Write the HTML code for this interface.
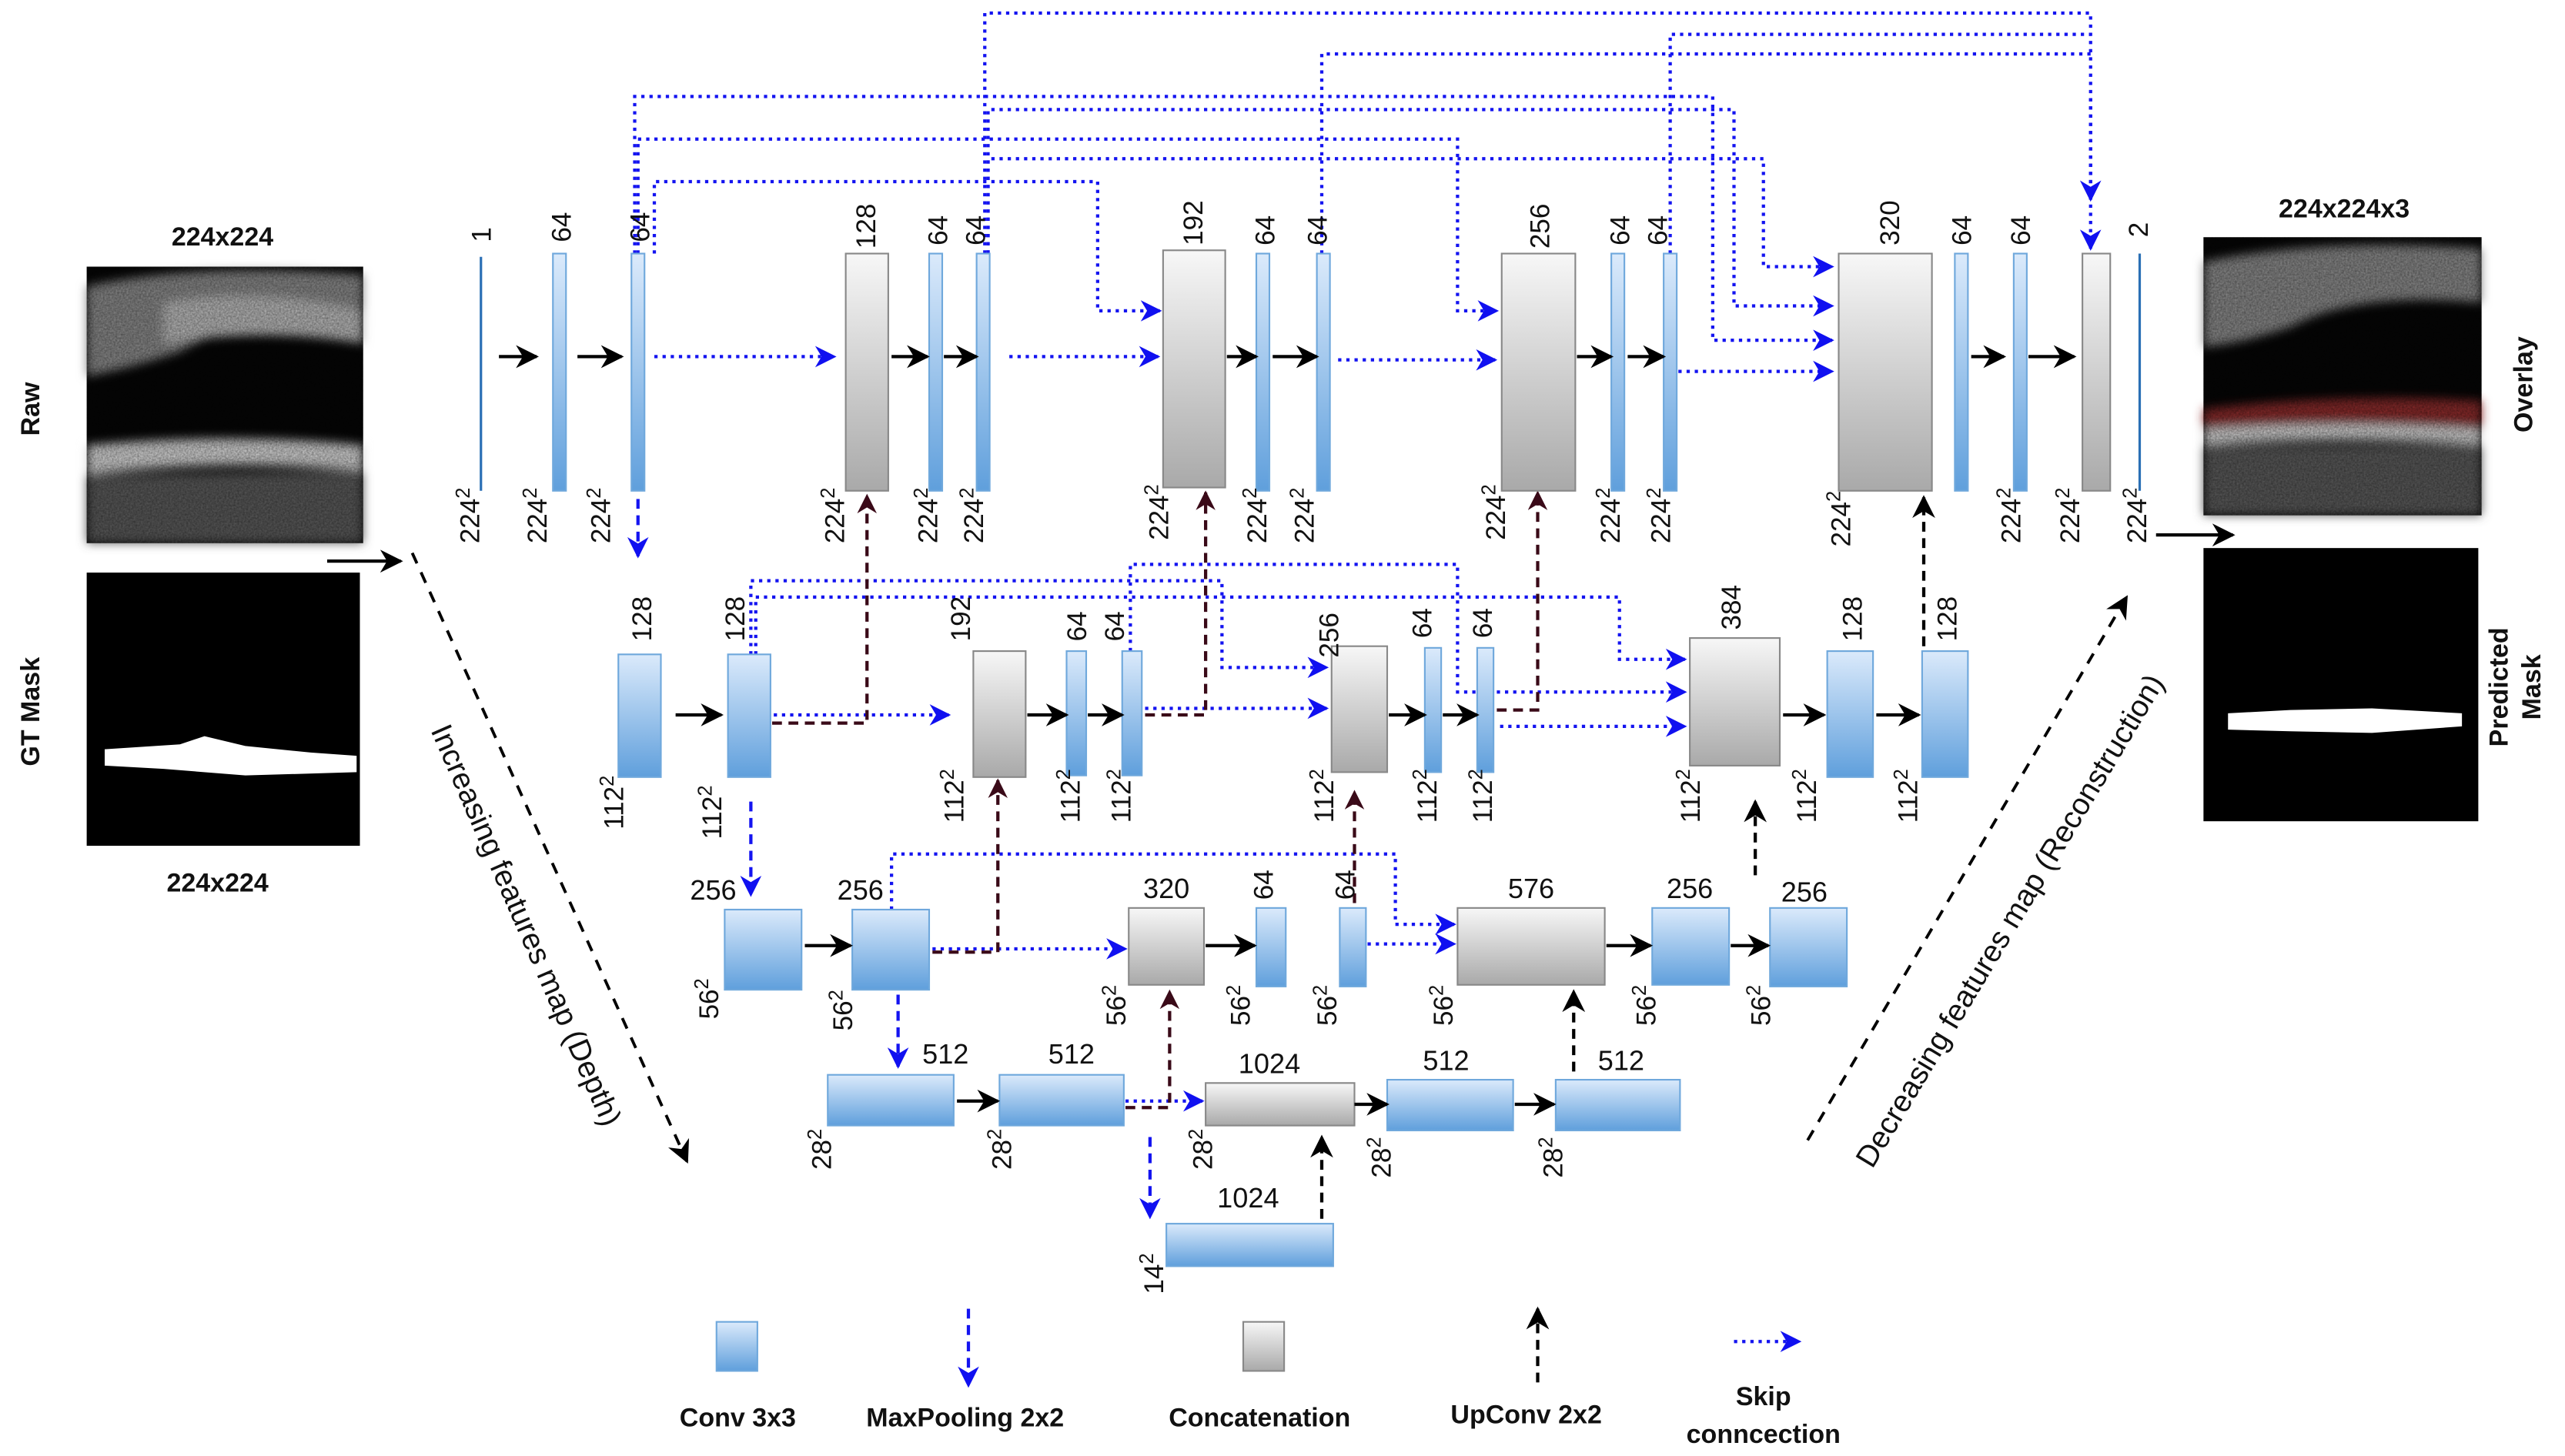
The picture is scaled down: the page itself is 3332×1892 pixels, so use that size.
<!DOCTYPE html>
<html><head><meta charset="utf-8"><style>
html,body{margin:0;padding:0;background:#fff;}
svg{display:block;}
text{font-family:"Liberation Sans",sans-serif;fill:#111;}
</style></head><body>
<svg width="3332" height="1892" viewBox="0 0 1568 890" preserveAspectRatio="none" xmlns="http://www.w3.org/2000/svg">
<defs>
<linearGradient id="bl" x1="0" y1="0" x2="0" y2="1"><stop offset="0" stop-color="#dbeafb"/><stop offset="1" stop-color="#5f9fdc"/></linearGradient>
<linearGradient id="gr" x1="0" y1="0" x2="0" y2="1"><stop offset="0" stop-color="#f7f7f7"/><stop offset="1" stop-color="#a9a9a9"/></linearGradient>
<marker id="akb" viewBox="0 0 10 10" refX="9" refY="5" markerWidth="14" markerHeight="14" orient="auto" markerUnits="userSpaceOnUse"><path d="M0,0 L10,5 L0,10 L3,5z" fill="#000"/></marker>
<marker id="ab" viewBox="0 0 10 10" refX="9" refY="5" markerWidth="13" markerHeight="13" orient="auto" markerUnits="userSpaceOnUse"><path d="M0,0 L10,5 L0,10 L3,5z" fill="#1010f0"/></marker>
<marker id="abr" viewBox="0 0 10 10" refX="9" refY="5" markerWidth="12" markerHeight="12" orient="auto" markerUnits="userSpaceOnUse"><path d="M0,0 L10,5 L0,10 L3,5z" fill="#3a0a18"/></marker>
<filter id="bl2"><feGaussianBlur stdDeviation="3"/></filter>
<filter id="noise" x="0" y="0" width="100%" height="100%"><feTurbulence type="fractalNoise" baseFrequency="0.9" numOctaves="2" result="n"/><feColorMatrix type="matrix" values="0 0 0 0 0  0 0 0 0 0  0 0 0 0 0  0 0 0 0.5 0" in="n"/><feComposite operator="in" in2="SourceGraphic"/></filter>
</defs>

<!-- Left images -->
<text x="136" y="150" font-size="16" font-weight="bold" text-anchor="middle">224x224</text>
<rect x="53" y="163" width="169" height="169" fill="#050505"/>
<g filter="url(#bl2)">
<path d="M53,175 Q120,160 222,168 L222,200 Q150,190 110,215 Q80,225 53,230 Z" fill="#8a8a8a"/>
<path d="M100,185 Q160,175 222,190 L222,210 Q160,200 100,210Z" fill="#bbb"/>
<path d="M53,272 Q140,264 222,272 L222,288 Q140,280 53,290Z" fill="#d5d5d5"/>
<path d="M53,290 L222,288 L222,332 L53,332Z" fill="#5a5a5a"/>
</g>
<rect x="53" y="163" width="169" height="169" fill="#000" filter="url(#noise)"/>
<rect x="53" y="350" width="167" height="167" fill="#000"/>
<path d="M64,458 L110,455 L125,450 L150,456 L190,460 L218,462 L218,472 L150,474 L100,470 L64,468Z" fill="#fff"/>
<text x="133" y="545" font-size="16" font-weight="bold" text-anchor="middle">224x224</text>
<text transform="translate(24,250) rotate(-90)" font-size="16" font-weight="bold" text-anchor="middle">Raw</text>
<text transform="translate(24,435) rotate(-90)" font-size="16" font-weight="bold" text-anchor="middle">GT Mask</text>
<line x1="200" y1="343" x2="245" y2="343" stroke="#000" stroke-width="2" marker-end="url(#akb)"/>
<line x1="252" y1="338" x2="420" y2="710" stroke="#000" stroke-width="1.8" stroke-dasharray="7 6" marker-end="url(#akb)"/>
<text transform="translate(316,568) rotate(66.5)" font-size="18.5" text-anchor="middle">Increasing features map (Depth)</text>

<!-- Right images -->
<text x="1433" y="133" font-size="16" font-weight="bold" text-anchor="middle">224x224x3</text>
<rect x="1347" y="145" width="170" height="170" fill="#050505"/>
<g filter="url(#bl2)">
<path d="M1347,160 Q1420,145 1517,152 L1517,185 Q1440,178 1400,200 Q1370,210 1347,212 Z" fill="#8a8a8a"/>
<path d="M1347,250 Q1430,240 1517,245 L1517,262 Q1430,256 1347,262Z" fill="#8a2a2a"/>
<path d="M1347,262 Q1430,256 1517,262 L1517,272 Q1430,266 1347,272Z" fill="#d5d5d5"/>
<path d="M1347,272 L1517,272 L1517,315 L1347,315Z" fill="#5a5a5a"/>
</g>
<rect x="1347" y="145" width="170" height="170" fill="#000" filter="url(#noise)"/>
<rect x="1347" y="335" width="168" height="167" fill="#000"/>
<path d="M1362,436 L1400,434 L1450,433 L1505,436 L1505,444 L1450,448 L1400,447 L1362,446Z" fill="#fff"/>
<text transform="translate(1548,235) rotate(-90)" font-size="16" font-weight="bold" text-anchor="middle">Overlay</text>
<text transform="translate(1533,420) rotate(-90)" font-size="16" font-weight="bold" text-anchor="middle">Predicted</text>
<text transform="translate(1553,420) rotate(-90)" font-size="16" font-weight="bold" text-anchor="middle">Mask</text>
<line x1="1318" y1="327" x2="1365" y2="327" stroke="#000" stroke-width="2" marker-end="url(#akb)"/>
<line x1="1105" y1="697" x2="1300" y2="365" stroke="#000" stroke-width="1.8" stroke-dasharray="7 6" marker-end="url(#akb)"/>
<text transform="translate(1234,566) rotate(-59)" font-size="18.5" text-anchor="middle">Decreasing features map (Reconstruction)</text>

<!-- Skip connections -->
<g fill="none" stroke="#1414f0" stroke-width="2" stroke-dasharray="2 3">
<path d="M602,155 V8 H1278 V152" marker-end="url(#ab)"/>
<path d="M1278,60 V122" marker-end="url(#ab)"/>
<path d="M388,155 V59 H1047 V208 H1120" marker-end="url(#ab)"/>
<path d="M604,155 V67 H1060 V187 H1120" marker-end="url(#ab)"/>
<path d="M390,155 V85 H891 V190 H915" marker-end="url(#ab)"/>
<path d="M604,155 V97 H1078 V163 H1120" marker-end="url(#ab)"/>
<path d="M400,155 V111 H671 V190 H709" marker-end="url(#ab)"/>
<path d="M808,155 V33 H1278"/>
<path d="M1021,155 V21 H1278"/>
<path d="M400,218 H510" marker-end="url(#ab)"/>
<path d="M617,218 H708" marker-end="url(#ab)"/>
<path d="M818,220 H914" marker-end="url(#ab)"/>
<path d="M1026,227 H1120" marker-end="url(#ab)"/>
<path d="M459,400 V355 H747 V408 H811" marker-end="url(#ab)"/>
<path d="M462,400 V365 H990 V403 H1030" marker-end="url(#ab)"/>
<path d="M691,398 V345 H891 V423 H1030" marker-end="url(#ab)"/>
<path d="M917,444 H1030" marker-end="url(#ab)"/>
<path d="M473,437 H580" marker-end="url(#ab)"/>
<path d="M700,433 H811" marker-end="url(#ab)"/>
<path d="M545,556 V522 H853 V565 H889" marker-end="url(#ab)"/>
<path d="M570,580 H688" marker-end="url(#ab)"/>
<path d="M836,577 H889" marker-end="url(#ab)"/>
<path d="M688,673 H735" marker-end="url(#ab)"/>
<path d="M1060,820 H1100" marker-end="url(#ab)"/>
</g>

<!-- maxpool -->
<g fill="none" stroke="#1414f0" stroke-width="2" stroke-dasharray="6 4">
<path d="M390,305 V340" marker-end="url(#ab)"/>
<path d="M459,490 V547" marker-end="url(#ab)"/>
<path d="M549,608 V652" marker-end="url(#ab)"/>
<path d="M703,695 V744" marker-end="url(#ab)"/>
<path d="M592,800 V847" marker-end="url(#ab)"/>
</g>

<!-- upconv brown -->
<g fill="none" stroke="#3a0a18" stroke-width="2" stroke-dasharray="6 4">
<path d="M472,442 H530 V303" marker-end="url(#abr)"/>
<path d="M700,437 H737 V301" marker-end="url(#abr)"/>
<path d="M915,434 H940 V301" marker-end="url(#abr)"/>
<path d="M570,582 H610 V477" marker-end="url(#abr)"/>
<path d="M688,677 H715 V606" marker-end="url(#abr)"/>
<path d="M828,552 V484" marker-end="url(#abr)"/>
</g>
<g fill="none" stroke="#000" stroke-width="2" stroke-dasharray="6 4">
<path d="M808,745 V695" marker-end="url(#akb)"/>
<path d="M962,655 V606" marker-end="url(#akb)"/>
<path d="M1073,535 V490" marker-end="url(#akb)"/>
<path d="M1176,395 V304" marker-end="url(#akb)"/>
<path d="M940,845 V800" marker-end="url(#akb)"/>
</g>

<!-- blocks -->
<g stroke="#6fa8dc" stroke-width="1" fill="url(#bl)">
<line x1="294" y1="157" x2="294" y2="300" stroke="#2a6fb5" stroke-width="1.5"/>
<rect x="338" y="155" width="8" height="145"/>
<rect x="386" y="155" width="8" height="145"/>
<rect x="568" y="155" width="8" height="145"/>
<rect x="597" y="155" width="8" height="145"/>
<rect x="768" y="155" width="8" height="145"/>
<rect x="805" y="155" width="8" height="145"/>
<rect x="985" y="155" width="8" height="145"/>
<rect x="1017" y="155" width="8" height="145"/>
<rect x="1195" y="155" width="8" height="145"/>
<rect x="1231" y="155" width="8" height="145"/>
<line x1="1308" y1="155" x2="1308" y2="300" stroke="#2a6fb5" stroke-width="1.5"/>
<rect x="378" y="400" width="26" height="75"/>
<rect x="445" y="400" width="26" height="75"/>
<rect x="652" y="398" width="12" height="76"/>
<rect x="686" y="398" width="12" height="76"/>
<rect x="871" y="396" width="10" height="76"/>
<rect x="903" y="396" width="10" height="76"/>
<rect x="1117" y="398" width="28" height="77"/>
<rect x="1175" y="398" width="28" height="77"/>
<rect x="443" y="556" width="47" height="49"/>
<rect x="521" y="556" width="47" height="49"/>
<rect x="768" y="555" width="18" height="48"/>
<rect x="819" y="555" width="16" height="48"/>
<rect x="1010" y="555" width="47" height="47"/>
<rect x="1082" y="555" width="47" height="48"/>
<rect x="506" y="657" width="77" height="31"/>
<rect x="611" y="657" width="76" height="31"/>
<rect x="848" y="660" width="77" height="31"/>
<rect x="951" y="660" width="76" height="31"/>
<rect x="713" y="748" width="102" height="26"/>
<rect x="438" y="808" width="25" height="30"/>
</g>
<g stroke="#888" stroke-width="1" fill="url(#gr)">
<rect x="517" y="155" width="26" height="145"/>
<rect x="711" y="153" width="38" height="145"/>
<rect x="918" y="155" width="45" height="145"/>
<rect x="1124" y="155" width="57" height="145"/>
<rect x="1273" y="155" width="17" height="145"/>
<rect x="595" y="398" width="32" height="77"/>
<rect x="814" y="395" width="34" height="77"/>
<rect x="1033" y="390" width="55" height="78"/>
<rect x="690" y="555" width="46" height="47"/>
<rect x="891" y="555" width="90" height="47"/>
<rect x="737" y="662" width="91" height="26"/>
<rect x="760" y="808" width="25" height="30"/>
</g>

<!-- black arrows -->
<g stroke="#000" stroke-width="2" marker-end="url(#akb)">
<line x1="305" y1="218" x2="328" y2="218"/>
<line x1="353" y1="218" x2="380" y2="218"/>
<line x1="545" y1="218" x2="567" y2="218"/>
<line x1="577" y1="218" x2="597" y2="218"/>
<line x1="750" y1="218" x2="768" y2="218"/>
<line x1="778" y1="218" x2="805" y2="218"/>
<line x1="964" y1="218" x2="985" y2="218"/>
<line x1="995" y1="218" x2="1017" y2="218"/>
<line x1="1205" y1="218" x2="1225" y2="218"/>
<line x1="1240" y1="218" x2="1268" y2="218"/>
<line x1="413" y1="437" x2="441" y2="437"/>
<line x1="628" y1="437" x2="652" y2="437"/>
<line x1="665" y1="437" x2="686" y2="437"/>
<line x1="849" y1="437" x2="871" y2="437"/>
<line x1="882" y1="437" x2="903" y2="437"/>
<line x1="1090" y1="437" x2="1115" y2="437"/>
<line x1="1147" y1="437" x2="1173" y2="437"/>
<line x1="492" y1="578" x2="520" y2="578"/>
<line x1="737" y1="578" x2="767" y2="578"/>
<line x1="982" y1="578" x2="1009" y2="578"/>
<line x1="1058" y1="578" x2="1081" y2="578"/>
<line x1="585" y1="673" x2="610" y2="673"/>
<line x1="828" y1="675" x2="848" y2="675"/>
<line x1="926" y1="675" x2="950" y2="675"/>
</g>

<!-- top labels -->
<g font-size="16.5">
<text transform="translate(300,148) rotate(-90)">1</text>
<text transform="translate(349,148) rotate(-90)">64</text>
<text transform="translate(397,148) rotate(-90)">64</text>
<text transform="translate(535,152) rotate(-90)">128</text>
<text transform="translate(579,150) rotate(-90)">64</text>
<text transform="translate(602,150) rotate(-90)">64</text>
<text transform="translate(735,150) rotate(-90)">192</text>
<text transform="translate(779,150) rotate(-90)">64</text>
<text transform="translate(811,150) rotate(-90)">64</text>
<text transform="translate(947,152) rotate(-90)">256</text>
<text transform="translate(996,150) rotate(-90)">64</text>
<text transform="translate(1019,150) rotate(-90)">64</text>
<text transform="translate(1161,150) rotate(-90)">320</text>
<text transform="translate(1205,150) rotate(-90)">64</text>
<text transform="translate(1241,150) rotate(-90)">64</text>
<text transform="translate(1313,145) rotate(-90)">2</text>
<text transform="translate(398,392) rotate(-90)">128</text>
<text transform="translate(455,392) rotate(-90)">128</text>
<text transform="translate(593,392) rotate(-90)">192</text>
<text transform="translate(664,392) rotate(-90)">64</text>
<text transform="translate(687,392) rotate(-90)">64</text>
<text transform="translate(818,402) rotate(-90)">256</text>
<text transform="translate(875,390) rotate(-90)">64</text>
<text transform="translate(912,390) rotate(-90)">64</text>
<text transform="translate(1064,385) rotate(-90)">384</text>
<text transform="translate(1138,392) rotate(-90)">128</text>
<text transform="translate(1196,392) rotate(-90)">128</text>
<text transform="translate(828,550) rotate(-90)">64</text>
<text transform="translate(778,550) rotate(-90)">64</text>
</g>
<g font-size="17" text-anchor="middle">
<text x="436" y="550">256</text>
<text x="526" y="550">256</text>
<text x="713" y="549">320</text>
<text x="936" y="549">576</text>
<text x="1033" y="549">256</text>
<text x="1103" y="551">256</text>
<text x="578" y="650">512</text>
<text x="655" y="650">512</text>
<text x="776" y="656">1024</text>
<text x="884" y="654">512</text>
<text x="991" y="654">512</text>
<text x="763" y="738">1024</text>
</g>
<!-- bottom labels -->
<g font-size="16.5" text-anchor="end">
<text transform="translate(293,298) rotate(-90)">224<tspan font-size="12" dy="-6">2</tspan></text>
<text transform="translate(334,298) rotate(-90)">224<tspan font-size="12" dy="-6">2</tspan></text>
<text transform="translate(373,298) rotate(-90)">224<tspan font-size="12" dy="-6">2</tspan></text>
<text transform="translate(516,298) rotate(-90)">224<tspan font-size="12" dy="-6">2</tspan></text>
<text transform="translate(573,298) rotate(-90)">224<tspan font-size="12" dy="-6">2</tspan></text>
<text transform="translate(601,298) rotate(-90)">224<tspan font-size="12" dy="-6">2</tspan></text>
<text transform="translate(714,296) rotate(-90)">224<tspan font-size="12" dy="-6">2</tspan></text>
<text transform="translate(774,298) rotate(-90)">224<tspan font-size="12" dy="-6">2</tspan></text>
<text transform="translate(803,298) rotate(-90)">224<tspan font-size="12" dy="-6">2</tspan></text>
<text transform="translate(920,296) rotate(-90)">224<tspan font-size="12" dy="-6">2</tspan></text>
<text transform="translate(990,298) rotate(-90)">224<tspan font-size="12" dy="-6">2</tspan></text>
<text transform="translate(1021,298) rotate(-90)">224<tspan font-size="12" dy="-6">2</tspan></text>
<text transform="translate(1131,300) rotate(-90)">224<tspan font-size="12" dy="-6">2</tspan></text>
<text transform="translate(1235,298) rotate(-90)">224<tspan font-size="12" dy="-6">2</tspan></text>
<text transform="translate(1271,298) rotate(-90)">224<tspan font-size="12" dy="-6">2</tspan></text>
<text transform="translate(1312,298) rotate(-90)">224<tspan font-size="12" dy="-6">2</tspan></text>
<text transform="translate(381,474) rotate(-90)">112<tspan font-size="12" dy="-6">2</tspan></text>
<text transform="translate(441,480) rotate(-90)">112<tspan font-size="12" dy="-6">2</tspan></text>
<text transform="translate(589,470) rotate(-90)">112<tspan font-size="12" dy="-6">2</tspan></text>
<text transform="translate(660,470) rotate(-90)">112<tspan font-size="12" dy="-6">2</tspan></text>
<text transform="translate(691,470) rotate(-90)">112<tspan font-size="12" dy="-6">2</tspan></text>
<text transform="translate(815,470) rotate(-90)">112<tspan font-size="12" dy="-6">2</tspan></text>
<text transform="translate(878,470) rotate(-90)">112<tspan font-size="12" dy="-6">2</tspan></text>
<text transform="translate(912,470) rotate(-90)">112<tspan font-size="12" dy="-6">2</tspan></text>
<text transform="translate(1039,470) rotate(-90)">112<tspan font-size="12" dy="-6">2</tspan></text>
<text transform="translate(1110,470) rotate(-90)">112<tspan font-size="12" dy="-6">2</tspan></text>
<text transform="translate(1172,470) rotate(-90)">112<tspan font-size="12" dy="-6">2</tspan></text>
<text transform="translate(439,598) rotate(-90)">56<tspan font-size="12" dy="-6">2</tspan></text>
<text transform="translate(521,605) rotate(-90)">56<tspan font-size="12" dy="-6">2</tspan></text>
<text transform="translate(688,602) rotate(-90)">56<tspan font-size="12" dy="-6">2</tspan></text>
<text transform="translate(764,602) rotate(-90)">56<tspan font-size="12" dy="-6">2</tspan></text>
<text transform="translate(817,602) rotate(-90)">56<tspan font-size="12" dy="-6">2</tspan></text>
<text transform="translate(888,602) rotate(-90)">56<tspan font-size="12" dy="-6">2</tspan></text>
<text transform="translate(1012,602) rotate(-90)">56<tspan font-size="12" dy="-6">2</tspan></text>
<text transform="translate(1082,602) rotate(-90)">56<tspan font-size="12" dy="-6">2</tspan></text>
<text transform="translate(508,690) rotate(-90)">28<tspan font-size="12" dy="-6">2</tspan></text>
<text transform="translate(618,690) rotate(-90)">28<tspan font-size="12" dy="-6">2</tspan></text>
<text transform="translate(741,690) rotate(-90)">28<tspan font-size="12" dy="-6">2</tspan></text>
<text transform="translate(850,695) rotate(-90)">28<tspan font-size="12" dy="-6">2</tspan></text>
<text transform="translate(955,695) rotate(-90)">28<tspan font-size="12" dy="-6">2</tspan></text>
<text transform="translate(711,766) rotate(-90)">14<tspan font-size="12" dy="-6">2</tspan></text>
</g>

<!-- legend -->
<g font-size="16" font-weight="bold" text-anchor="middle">
<text x="451" y="872">Conv 3x3</text>
<text x="590" y="872">MaxPooling 2x2</text>
<text x="770" y="872">Concatenation</text>
<text x="933" y="870">UpConv 2x2</text>
<text x="1078" y="859">Skip</text>
<text x="1078" y="882">conncection</text>
</g>
</svg>
</body></html>
